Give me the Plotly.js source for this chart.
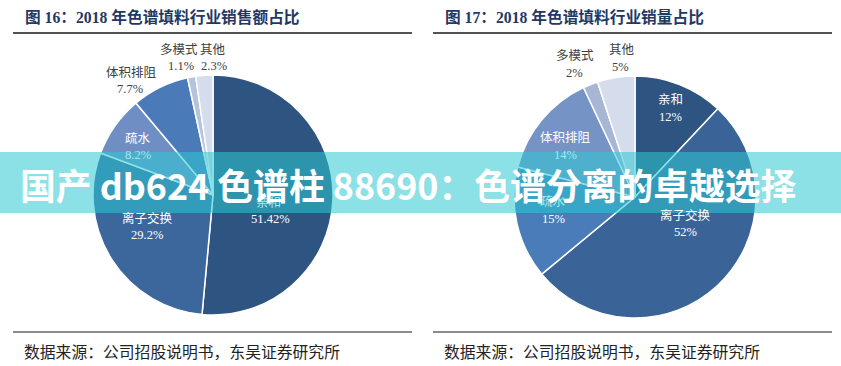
<!DOCTYPE html>
<html>
<head>
<meta charset="utf-8">
<script src="https://cdn.plot.ly/plotly-3.0.1.min.js"></script>
<style>
  html, body { margin: 0; padding: 0; background: #ffffff; }
  #chart { width: 841px; height: 366px; }
</style>
</head>
<body>
<div id="chart"></div>
<script>
// ---------- data ----------
const titles = ['图 16：2018 年色谱填料行业销售额占比', '图 17：2018 年色谱填料行业销量占比'];
const categories = ['亲和', '离子交换', '疏水', '体积排阻', '多模式', '其他'];
const salesShare = [51.42, 29.2, 8.2, 7.7, 1.1, 2.3];
const salesLabels = ['51.42%', '29.2%', '8.2%', '7.7%', '1.1%', '2.3%'];
const volumeShare = [12, 52, 15, 14, 2, 5];
const volumeLabels = ['12%', '52%', '15%', '14%', '2%', '5%'];
const sourceText = '数据来源：公司招股说明书，东吴证券研究所';
const bannerText = '国产 db624 色谱柱 88690：色谱分离的卓越选择';

// ---------- styles / positions ----------
const W = 841, H = 366;
const px = x => x / W;
const py = y => 1 - y / H;

const salesColors = ['#2e5482', '#3b679c', '#6f8fc4', '#4a7ab7', '#b5c3dc', '#d5dceb'];
const volumeColors = ['#2e5482', '#3a6498', '#4a7cb9', '#7693c6', '#a8b6d5', '#d5dceb'];

const WHITE = '#ffffff', GREY = '#404040', TINT = '#a6e8ee';
// label anchors (pixels): [nameX, nameY, valueX, valueY], colours [name, value]
const salesLabelPos = [
  [268, 203, 270, 219],
  [147, 218, 147, 235],
  [138, 138, 138, 155],
  [131, 73, 130, 89],
  [179, 50, 181, 66],
  [213, 50, 214, 66]
];
const salesLabelColor = [[TINT, WHITE], [WHITE, WHITE], [WHITE, TINT], [GREY, GREY], [GREY, GREY], [GREY, GREY]];
const volumeLabelPos = [
  [670, 100, 670, 117],
  [685, 215, 685, 232],
  [553, 202, 553, 219],
  [565, 138, 565, 155],
  [575, 56, 574, 73],
  [622, 50, 620, 67]
];
const volumeLabelColor = [[WHITE, WHITE], [WHITE, WHITE], [TINT, WHITE], [WHITE, TINT], [GREY, GREY], [GREY, GREY]];

const serif = "'Liberation Serif', 'Noto Sans CJK SC', serif";
const cjkSans = "'Noto Sans CJK SC', sans-serif";

function pieTrace(values, colors, cx, cy, r) {
  return {
    type: 'pie',
    labels: categories,
    values: values,
    sort: false,
    direction: 'clockwise',
    rotation: 0,
    textinfo: 'none',
    hoverinfo: 'none',
    showlegend: false,
    marker: { colors: colors, line: { color: '#ffffff', width: 1.5 } },
    domain: { x: [px(cx - r), px(cx + r)], y: [py(cy + r), py(cy - r)] }
  };
}

const data = [
  pieTrace(salesShare, salesColors, 213, 195, 120),
  pieTrace(volumeShare, volumeColors, 635, 197, 121)
];

const annotations = [];
function addLabels(labelsArr, posArr, colorArr) {
  categories.forEach((c, i) => {
    const p = posArr[i];
    annotations.push({
      xref: 'paper', yref: 'paper', x: px(p[0]), y: py(p[1]),
      xanchor: 'center', yanchor: 'middle', showarrow: false,
      text: c, font: { family: serif, size: 12.5, color: colorArr[i][0] }
    });
    annotations.push({
      xref: 'paper', yref: 'paper', x: px(p[2]), y: py(p[3]),
      xanchor: 'center', yanchor: 'middle', showarrow: false,
      text: labelsArr[i], font: { family: serif, size: 12.5, color: colorArr[i][1] }
    });
  });
}
addLabels(salesLabels, salesLabelPos, salesLabelColor);
addLabels(volumeLabels, volumeLabelPos, volumeLabelColor);

// panel titles and sources
[[23, titles[0], 22], [443, titles[1], 442]].forEach(([tx, t, sx]) => {
  annotations.push({
    xref: 'paper', yref: 'paper', x: px(tx), y: py(17),
    xanchor: 'left', yanchor: 'middle', showarrow: false,
    text: '<b>' + t + '</b>', font: { family: serif, size: 15.7, color: '#1f3864' }
  });
  annotations.push({
    xref: 'paper', yref: 'paper', x: px(sx), y: py(351),
    xanchor: 'left', yanchor: 'middle', showarrow: false,
    text: sourceText, font: { family: cjkSans, size: 15.8, color: '#222222' }
  });
});

// banner text
annotations.push({
  xref: 'paper', yref: 'paper', x: px(408.5), y: py(184),
  xanchor: 'center', yanchor: 'middle', showarrow: false,
  text: '<b>' + bannerText + '</b>', font: { family: cjkSans, size: 35.8, color: '#ffffff' }
});

const shapes = [];
[[13, 412], [433, 832]].forEach(([x0, x1]) => {
  shapes.push({ type: 'line', xref: 'paper', yref: 'paper', x0: px(x0), x1: px(x1), y0: py(33), y1: py(33),
    line: { color: '#1a1a1a', width: 1.5 } });
  shapes.push({ type: 'line', xref: 'paper', yref: 'paper', x0: px(x0), x1: px(x1), y0: py(332), y1: py(332),
    line: { color: '#1a1a1a', width: 1.2 } });
});
shapes.push({ type: 'rect', xref: 'paper', yref: 'paper', x0: 0, x1: 1, y0: py(213), y1: py(152),
  fillcolor: 'rgba(45,200,212,0.55)', line: { width: 0 }, layer: 'above' });

const layout = {
  width: W, height: H,
  margin: { l: 0, r: 0, t: 0, b: 0 },
  paper_bgcolor: '#ffffff',
  plot_bgcolor: '#ffffff',
  showlegend: false,
  annotations: annotations,
  shapes: shapes
};

Plotly.newPlot('chart', data, layout, { displayModeBar: false, staticPlot: true });
</script>
</body>
</html>
